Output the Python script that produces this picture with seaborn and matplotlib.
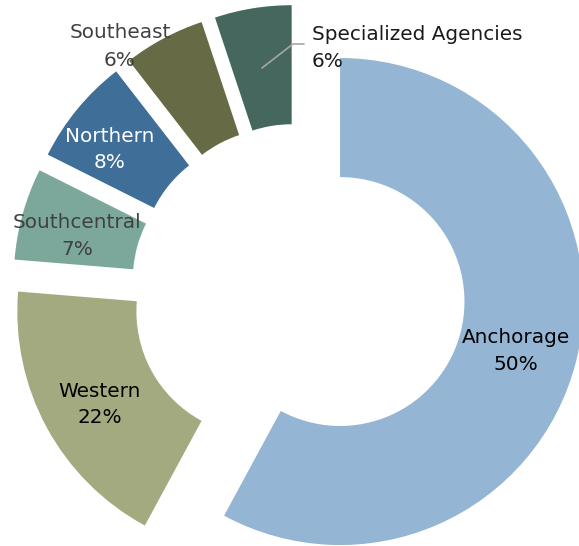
import matplotlib
matplotlib.use("Agg")
import matplotlib.pyplot as plt
import seaborn as sns

# ---- data ----
regions = ["Anchorage", "Western", "Southcentral", "Northern", "Southeast", "Specialized Agencies"]
# angular share of each ring segment as drawn (percent of the full circle)
shares = [57.9, 18.4, 6.1, 7.1, 5.4, 5.1]
# percentage labels printed on the chart
pct_labels = ["50%", "22%", "7%", "8%", "6%", "6%"]
colors = ["#94B5D3", "#A3AA7F", "#7BA89B", "#3F6F99", "#666A45", "#46675E"]

sns.set_theme(style="white")
plt.rcParams["font.family"] = ["DejaVu Sans"]
palette = sns.color_palette(colors)

W, H = 579, 546
fig = plt.figure(figsize=(W / 100, H / 100), dpi=100)
ax = fig.add_axes([0, 0, 1, 1])

R_PX = 243.5          # outer radius in pixels
CX, CY = 298.5, 291   # ring centre in pixels (from top-left)


def px(x, y):
    """pixel position (from top-left) -> data coordinates"""
    return (x - CX) / R_PX, (CY - y) / R_PX


ax.pie(shares, colors=palette, startangle=90, counterclock=False, radius=1.0,
       explode=[0.176] * len(shares),
       wedgeprops=dict(width=0.489, linewidth=0))

x0, y0 = px(0, H)
x1, y1 = px(W, 0)
ax.set_xlim(x0, x1)
ax.set_ylim(y0, y1)
ax.set_aspect("auto")
ax.axis("off")

FS = 14.4
# label layout: (centre x or left x, baseline line1, baseline line2, colour, ha)
layout = {
    "Anchorage": (516, 343, 370, "#000000", "center"),
    "Western": (100, 397, 423, "#000000", "center"),
    "Southcentral": (77, 228, 255, "#404040", "center"),
    "Northern": (110, 142, 168, "#FFFFFF", "center"),
    "Southeast": (120, 38, 66, "#404040", "center"),
    "Specialized Agencies": (312, 40, 67, "#1A1A1A", "left"),
}
for name, pct in zip(regions, pct_labels):
    x, b1, b2, col, ha = layout[name]
    ax.text(*px(x, b1), name, ha=ha, va="baseline", fontsize=FS, color=col)
    ax.text(*px(x, b2), pct, ha=ha, va="baseline", fontsize=FS, color=col)

# leader line for Specialized Agencies
lx, ly = zip(px(262, 68), px(293, 44), px(304, 44))
ax.plot(lx, ly, color="#A6A6A6", lw=1.2)

fig.savefig("out.png", dpi=100, facecolor="white")
